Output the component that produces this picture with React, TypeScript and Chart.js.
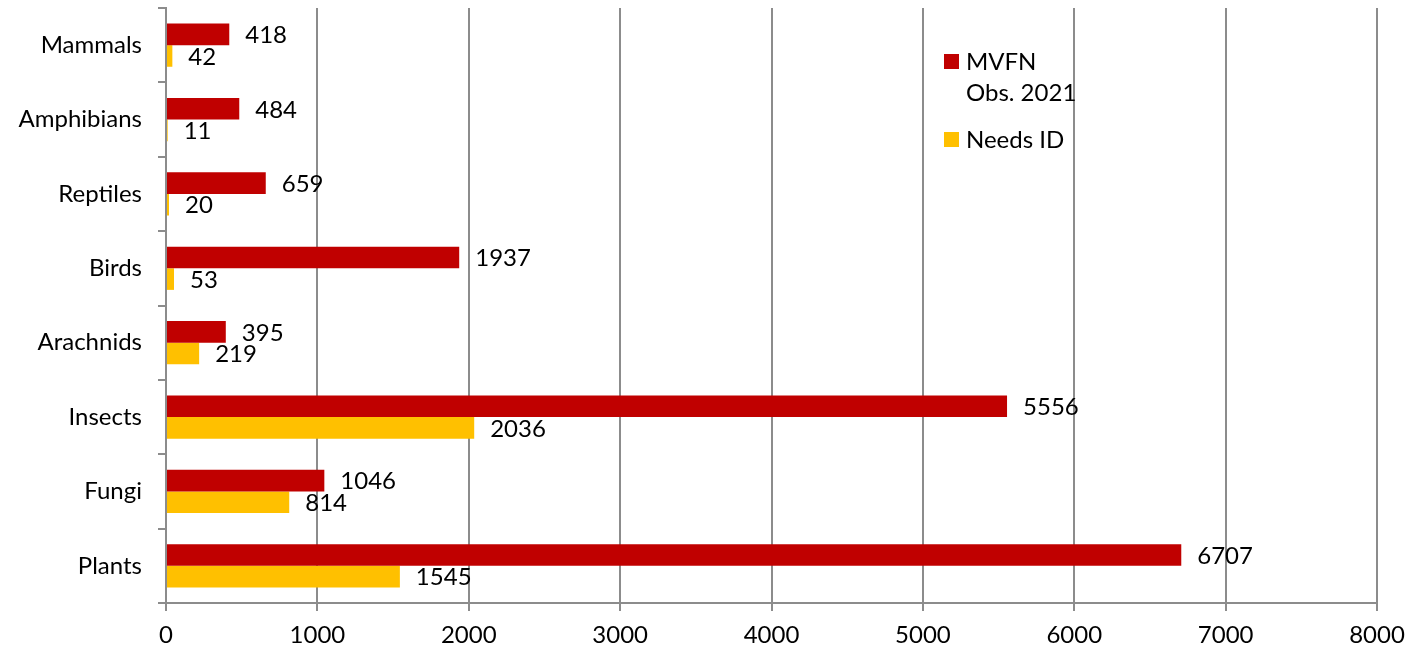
import React, { useEffect, useRef } from 'react';
import { Chart, registerables } from 'chart.js';

Chart.register(...registerables);

const categories = ['Mammals', 'Amphibians', 'Reptiles', 'Birds', 'Arachnids', 'Insects', 'Fungi', 'Plants'];
const mvfnObs2021 = [418, 484, 659, 1937, 395, 5556, 1046, 6707];
const needsId = [42, 11, 20, 53, 219, 2036, 814, 1545];
const legendLabels = [['MVFN', 'Obs. 2021'], ['Needs ID']];
const seriesColors = ['#C00000', '#FFC000'];
const xMin = 0;
const xMax = 8000;
const xStep = 1000;

const FONT = 'Lato';
const GRID = '#8c8c8c';

const valueLabels = {
  id: 'valueLabels',
  afterDatasetsDraw(chart: any) {
    const ctx = chart.ctx;
    ctx.save();
    ctx.font = `24px ${FONT}`;
    ctx.fillStyle = '#000';
    ctx.textAlign = 'left';
    ctx.textBaseline = 'middle';
    chart.data.datasets.forEach((ds: any, i: number) => {
      const meta = chart.getDatasetMeta(i);
      meta.data.forEach((el: any, j: number) => {
        ctx.fillText(String(ds.data[j]), el.x + 16, el.y + 1);
      });
    });
    ctx.restore();
  },
};

const customLegend = {
  id: 'customLegend',
  afterDraw(chart: any) {
    const ctx = chart.ctx;
    ctx.save();
    ctx.font = `24px ${FONT}`;
    ctx.textAlign = 'left';
    ctx.textBaseline = 'middle';
    const boxX = 944;
    const textX = 966;
    const starts = [62, 140];
    legendLabels.forEach((lines, i) => {
      const y0 = starts[i];
      ctx.fillStyle = seriesColors[i];
      ctx.fillRect(boxX, y0 - 8, 15, 15);
      ctx.fillStyle = '#000';
      lines.forEach((line, k) => {
        ctx.fillText(line, textX, y0 + k * 31);
      });
    });
    ctx.restore();
  },
};

export default function App() {
  const ref = useRef<HTMLCanvasElement>(null);
  useEffect(() => {
    document.body.style.margin = '0';
    Chart.defaults.font.family = FONT;
    const chart = new Chart(ref.current!, {
      type: 'bar',
      data: {
        labels: categories,
        datasets: [
          { label: 'MVFN Obs. 2021', data: mvfnObs2021, backgroundColor: seriesColors[0], categoryPercentage: 0.58, barPercentage: 1 },
          { label: 'Needs ID', data: needsId, backgroundColor: seriesColors[1], categoryPercentage: 0.58, barPercentage: 1 },
        ],
      },
      options: {
        indexAxis: 'y',
        animation: false,
        responsive: true,
        maintainAspectRatio: false,
        layout: { padding: { top: 8, right: 31, left: 0, bottom: 0 } },
        plugins: { legend: { display: false }, tooltip: { enabled: false } },
        scales: {
          x: {
            min: xMin,
            max: xMax,
            ticks: { stepSize: xStep, color: '#000', font: { size: 24 }, padding: 10, callback: (v: any) => String(v) },
            grid: { color: GRID, lineWidth: 2, tickLength: 8, drawTicks: true },
            border: { color: GRID, width: 2 },
            afterFit: (s: any) => { s.height = 45; s.paddingLeft = 0; s.paddingRight = 0; },
          },
          y: {
            type: 'category',
            ticks: { color: '#000', font: { size: 24 }, padding: 16 },
            grid: { offset: true, drawOnChartArea: false, drawTicks: true, tickLength: 8, color: GRID, lineWidth: 2 },
            border: { color: GRID, width: 2 },
            afterFit: (s: any) => { s.width = 166; s.paddingTop = 0; s.paddingBottom = 0; },
          },
        },
      },
      plugins: [valueLabels, customLegend],
    });
    return () => chart.destroy();
  }, []);
  return (
    <div style={{ position: 'fixed', left: 0, top: 0, width: 1408, height: 648 }}>
      <canvas ref={ref} />
    </div>
  );
}
